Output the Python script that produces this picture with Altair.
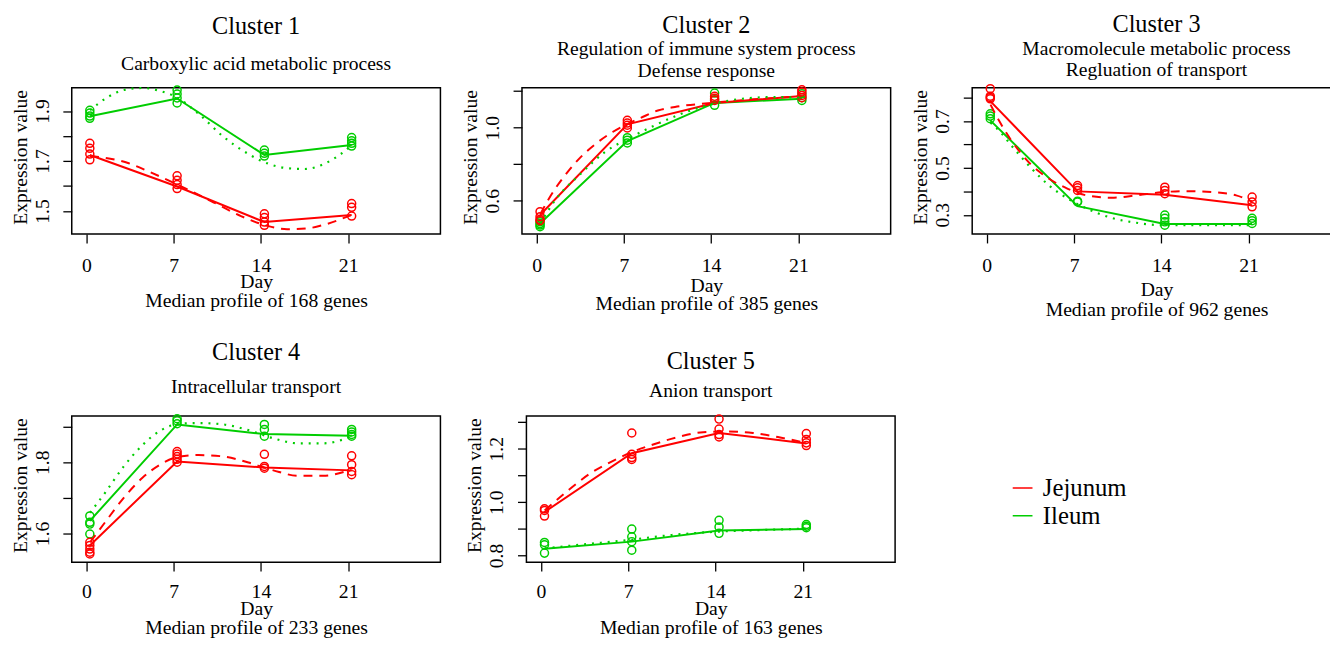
import altair as alt
import pandas as pd

FONT = "Liberation Serif"
DAYS = [0, 7, 14, 21]
TISSUES = ["Jejunum", "Ileum"]
COLORS = ["#FF0000", "#00CD00"]
JIT = 0.28
X_DOMAIN = [-1.17, 28.4]

cluster_titles = ["Cluster 1", "Cluster 2", "Cluster 3", "Cluster 4", "Cluster 5"]
cluster_terms = [
    ["Carboxylic acid metabolic process"],
    ["Regulation of immune system process", "Defense response"],
    ["Macromolecule metabolic process", "Regluation of transport"],
    ["Intracellular transport"],
    ["Anion transport"],
]
gene_counts = [168, 385, 962, 233, 163]

# ---- Cluster 1 ----
c1_jej_pts = [[1.771, 1.751, 1.728, 1.705], [1.641, 1.623, 1.606, 1.590],
              [1.489, 1.474, 1.456, 1.443], [1.530, 1.515, 1.480]]
c1_jej_med = [1.724, 1.598, 1.456, 1.484]
c1_ile_pts = [[1.903, 1.892, 1.880, 1.871], [1.984, 1.968, 1.952, 1.932],
              [1.744, 1.731, 1.720], [1.794, 1.781, 1.771, 1.760]]
c1_ile_med = [1.879, 1.950, 1.724, 1.764]
c1_jej_fit_x = [0.3, 3.4, 5.0, 7.3, 10.0, 12.4, 14.5, 16.1, 17.6, 19.2, 21.2]
c1_jej_fit_y = [1.720, 1.691, 1.658, 1.606, 1.540, 1.480, 1.441, 1.427, 1.430, 1.447, 1.483]
c1_ile_fit_x = [0.3, 1.7, 3.0, 4.5, 6.0, 7.3, 9.0, 11.0, 13.0, 14.5, 16.0, 17.5, 19.0, 20.3, 21.3]
c1_ile_fit_y = [1.903, 1.955, 1.984, 1.992, 1.979, 1.953, 1.889, 1.797, 1.728, 1.691, 1.672, 1.668, 1.687, 1.724, 1.764]

# ---- Cluster 2 ----
c2_jej_pts = [[0.540, 0.513, 0.498, 0.491], [1.040, 1.025, 1.013, 0.998],
              [1.171, 1.160, 1.149], [1.207, 1.195, 1.176, 1.164]]
c2_jej_med = [0.522, 1.018, 1.135, 1.173]
c2_ile_pts = [[0.485, 0.475, 0.467, 0.458], [0.945, 0.931, 0.916],
              [1.189, 1.153, 1.122], [1.185, 1.164, 1.149]]
c2_ile_med = [0.476, 0.927, 1.135, 1.158]
c2_jej_fit_x = [0.3, 1.0, 2.5, 3.5, 4.7, 6.1, 8.5, 9.8, 11.1, 14.0, 17.0, 21.2]
c2_jej_fit_y = [0.527, 0.613, 0.758, 0.836, 0.909, 0.976, 1.058, 1.095, 1.113, 1.135, 1.153, 1.171]
c2_ile_fit_x = [0.3, 1.5, 3.5, 5.5, 7.5, 9.5, 11.5, 14.0, 16.5, 19.0, 21.2]
c2_ile_fit_y = [0.476, 0.604, 0.745, 0.867, 0.945, 1.013, 1.073, 1.127, 1.158, 1.167, 1.164]

# ---- Cluster 3 ----
c3_jej_pts = [[0.838, 0.806, 0.800, 0.795], [0.425, 0.415, 0.404],
              [0.418, 0.404, 0.390], [0.376, 0.355, 0.334]]
c3_jej_med = [0.785, 0.400, 0.386, 0.341]
c3_ile_pts = [[0.731, 0.721, 0.710], [0.358, 0.355],
              [0.299, 0.285, 0.270, 0.256], [0.285, 0.275, 0.263]]
c3_ile_med = [0.703, 0.337, 0.261, 0.261]
c3_jej_fit_x = [0.3, 1.0, 2.0, 3.5, 5.0, 6.5, 8.0, 10.0, 12.0, 14.0, 16.0, 18.0, 20.0, 21.3]
c3_jej_fit_y = [0.770, 0.700, 0.615, 0.517, 0.454, 0.411, 0.383, 0.373, 0.383, 0.396, 0.401, 0.397, 0.383, 0.355]
c3_ile_fit_x = [0.3, 1.0, 2.0, 3.5, 5.0, 6.5, 8.0, 10.0, 12.0, 14.0, 17.0, 21.3]
c3_ile_fit_y = [0.693, 0.658, 0.594, 0.503, 0.425, 0.369, 0.327, 0.287, 0.266, 0.256, 0.256, 0.256]

# ---- Cluster 4 ----
c4_jej_pts = [[1.575, 1.566, 1.556, 1.547, 1.542], [1.830, 1.823, 1.816, 1.808, 1.800],
              [1.822, 1.788, 1.783], [1.818, 1.793, 1.774, 1.765]]
c4_jej_med = [1.566, 1.802, 1.785, 1.777]
c4_ile_pts = [[1.649, 1.631, 1.626, 1.598], [1.922, 1.916, 1.908],
              [1.906, 1.892, 1.873], [1.892, 1.885, 1.878, 1.873]]
c4_ile_med = [1.635, 1.906, 1.879, 1.874]
c4_jej_fit_x = [0.3, 1.5, 3.0, 4.5, 6.0, 7.5, 9.0, 11.0, 13.0, 15.0, 17.0, 19.0, 21.2]
c4_jej_fit_y = [1.575, 1.631, 1.700, 1.756, 1.795, 1.816, 1.820, 1.816, 1.799, 1.777, 1.762, 1.762, 1.779]
c4_ile_fit_x = [0.3, 1.5, 3.0, 4.5, 6.0, 7.5, 9.0, 11.0, 13.0, 15.0, 17.0, 19.0, 21.2]
c4_ile_fit_y = [1.658, 1.714, 1.788, 1.848, 1.890, 1.908, 1.910, 1.906, 1.890, 1.867, 1.853, 1.853, 1.871]

# ---- Cluster 5 ----
c5_jej_pts = [[0.975, 0.969, 0.948], [1.259, 1.179, 1.167, 1.160],
              [1.311, 1.274, 1.253, 1.244], [1.257, 1.235, 1.222, 1.212]]
c5_jej_med = [0.963, 1.183, 1.259, 1.220]
c5_ile_pts = [[0.849, 0.840, 0.809], [0.899, 0.870, 0.852, 0.820],
              [0.932, 0.907, 0.883], [0.916, 0.910, 0.904]]
c5_ile_med = [0.825, 0.852, 0.894, 0.899]
c5_jej_fit_x = [0.3, 2.0, 4.0, 5.5, 7.3, 9.0, 11.0, 13.0, 15.0, 17.0, 19.0, 21.2]
c5_jej_fit_y = [0.969, 1.037, 1.109, 1.148, 1.188, 1.216, 1.244, 1.262, 1.265, 1.259, 1.244, 1.222]
c5_ile_fit_x = [0.3, 3.5, 7.0, 10.5, 14.0, 17.5, 21.2]
c5_ile_fit_y = [0.827, 0.842, 0.858, 0.877, 0.889, 0.895, 0.901]

# axis settings per cluster
y_domains = [[1.408, 1.993], [0.418, 1.218], [0.218, 0.842], [1.519, 1.930], [0.775, 1.323]]
y_ticks = [[1.5, 1.6, 1.7, 1.8, 1.9], [0.6, 0.8, 1.0, 1.2], [0.3, 0.4, 0.5, 0.6, 0.7, 0.8],
           [1.6, 1.7, 1.8, 1.9], [0.8, 0.9, 1.0, 1.1, 1.2, 1.3]]
y_labels = [["1.5", "1.7", "1.9"], ["0.6", "1.0"], ["0.3", "0.5", "0.7"], ["1.6", "1.8"], ["0.8", "1.0", "1.2"]]

clusters = [
    (c1_jej_pts, c1_jej_med, c1_ile_pts, c1_ile_med, c1_jej_fit_x, c1_jej_fit_y, c1_ile_fit_x, c1_ile_fit_y),
    (c2_jej_pts, c2_jej_med, c2_ile_pts, c2_ile_med, c2_jej_fit_x, c2_jej_fit_y, c2_ile_fit_x, c2_ile_fit_y),
    (c3_jej_pts, c3_jej_med, c3_ile_pts, c3_ile_med, c3_jej_fit_x, c3_jej_fit_y, c3_ile_fit_x, c3_ile_fit_y),
    (c4_jej_pts, c4_jej_med, c4_ile_pts, c4_ile_med, c4_jej_fit_x, c4_jej_fit_y, c4_ile_fit_x, c4_ile_fit_y),
    (c5_jej_pts, c5_jej_med, c5_ile_pts, c5_ile_med, c5_jej_fit_x, c5_jej_fit_y, c5_ile_fit_x, c5_ile_fit_y),
]

# layout tuning per panel (title offsets, x-axis label / title placement)
title_offset = [8.4, 1.1, 0.5, 14, 10.3]
sub_pad = [14.5, 1, 1, 11.7, 6.7]
xlabel_pad = [13, 13, 13, 11, 11]
xtitle_y = [38, 42, 46, 37, 37]
xtitle_lh = [19, 18.5, 20, 19, 19]

W, H = 373, 148
AX_FS = 19.9


def panel(i):
    jp, jm, ip, im, jfx, jfy, ifx, ify = clusters[i]
    pts, med = [], []
    for tissue, p, m in (("Ileum", ip, im), ("Jejunum", jp, jm)):
        for d, vals, mv in zip(DAYS, p, m):
            for v in vals:
                pts.append({"tissue": tissue, "x": d + JIT, "v": v})
            med.append({"tissue": tissue, "x": d + JIT, "v": mv})
    pts = pd.DataFrame(pts)
    med = pd.DataFrame(med)
    jfit = pd.DataFrame({"tissue": "Jejunum", "x": jfx, "v": jfy})
    ifit = pd.DataFrame({"tissue": "Ileum", "x": ifx, "v": ify})

    labs = y_labels[i]
    label_expr = "indexof([" + ",".join("'" + s + "'" for s in labs) + "], datum.label) >= 0 ? datum.label : ''"

    x = alt.X("x:Q", scale=alt.Scale(domain=X_DOMAIN, nice=False, zero=False),
              axis=alt.Axis(values=DAYS, format="d", labelPadding=xlabel_pad[i],
                            title=["Day", "Median profile of %d genes" % gene_counts[i]],
                            titleY=xtitle_y[i], titleLineHeight=xtitle_lh[i],
                            titleBaseline="top", titleAlign="center"))
    y = alt.Y("v:Q", scale=alt.Scale(domain=y_domains[i], nice=False, zero=False),
              axis=alt.Axis(values=y_ticks[i], format=".1f", labelExpr=label_expr,
                            title="Expression value", titleX=-46, titleY=70,
                            titleAngle=270, titleAlign="center", titleBaseline="alphabetic",
                            labelAngle=270, labelAlign="center", labelBaseline="alphabetic",
                            labelPadding=15))
    color = alt.Color("tissue:N", scale=alt.Scale(domain=TISSUES, range=COLORS),
                      legend=alt.Legend(title=None, orient="none", legendX=949.5, legendY=392.5,
                                        symbolType="stroke", symbolSize=400, symbolStrokeWidth=1.6,
                                        symbolDash=[1, 0],
                                        labelFontSize=25, labelFont=FONT, labelColor="black",
                                        labelOffset=8, rowPadding=2, padding=0))

    med_line = alt.Chart(med).mark_line(strokeWidth=2).encode(x=x, y=y, color=color, detail="tissue:N")
    points = alt.Chart(pts).mark_point(shape="circle", filled=False, size=66, strokeWidth=1.5,
                                       opacity=1).encode(x=x, y=y, color=color)
    jcurve = alt.Chart(jfit).mark_line(strokeWidth=2, strokeDash=[9, 7], interpolate="monotone").encode(
        x=x, y=y, color=color)
    icurve = alt.Chart(ifit).mark_line(strokeWidth=2.2, strokeDash=[2, 6], interpolate="monotone").encode(
        x=x, y=y, color=color)

    title = alt.TitleParams(text=cluster_titles[i], subtitle=cluster_terms[i], anchor="middle",
                            font=FONT, fontSize=24.5, fontWeight="normal", color="black",
                            subtitleFont=FONT, subtitleFontSize=19.8, subtitleColor="black",
                            subtitleLineHeight=22, subtitlePadding=sub_pad[i], offset=title_offset[i])
    return alt.layer(med_line, points, jcurve, icurve).properties(width=W, height=H, title=title)


row1 = alt.hconcat(panel(0), panel(1), panel(2), spacing=18.5)
row2 = alt.hconcat(panel(3), panel(4), spacing=23)
chart = alt.vconcat(row1, row2, spacing=20).properties(
    padding={"left": 1.5, "top": 0, "right": -12, "bottom": -4}
).configure(
    font=FONT, background="white"
).configure_view(
    stroke="black", strokeWidth=1.5
).configure_axis(
    grid=False, domain=False, tickColor="black", tickWidth=1.3, tickSize=9,
    labelFont=FONT, labelFontSize=AX_FS, labelColor="black",
    titleFont=FONT, titleFontSize=AX_FS, titleFontWeight="normal", titleColor="black",
    labelOverlap=False, labelFlush=False
)

chart.save("out.html", embed_options={"renderer": "svg", "actions": False})
